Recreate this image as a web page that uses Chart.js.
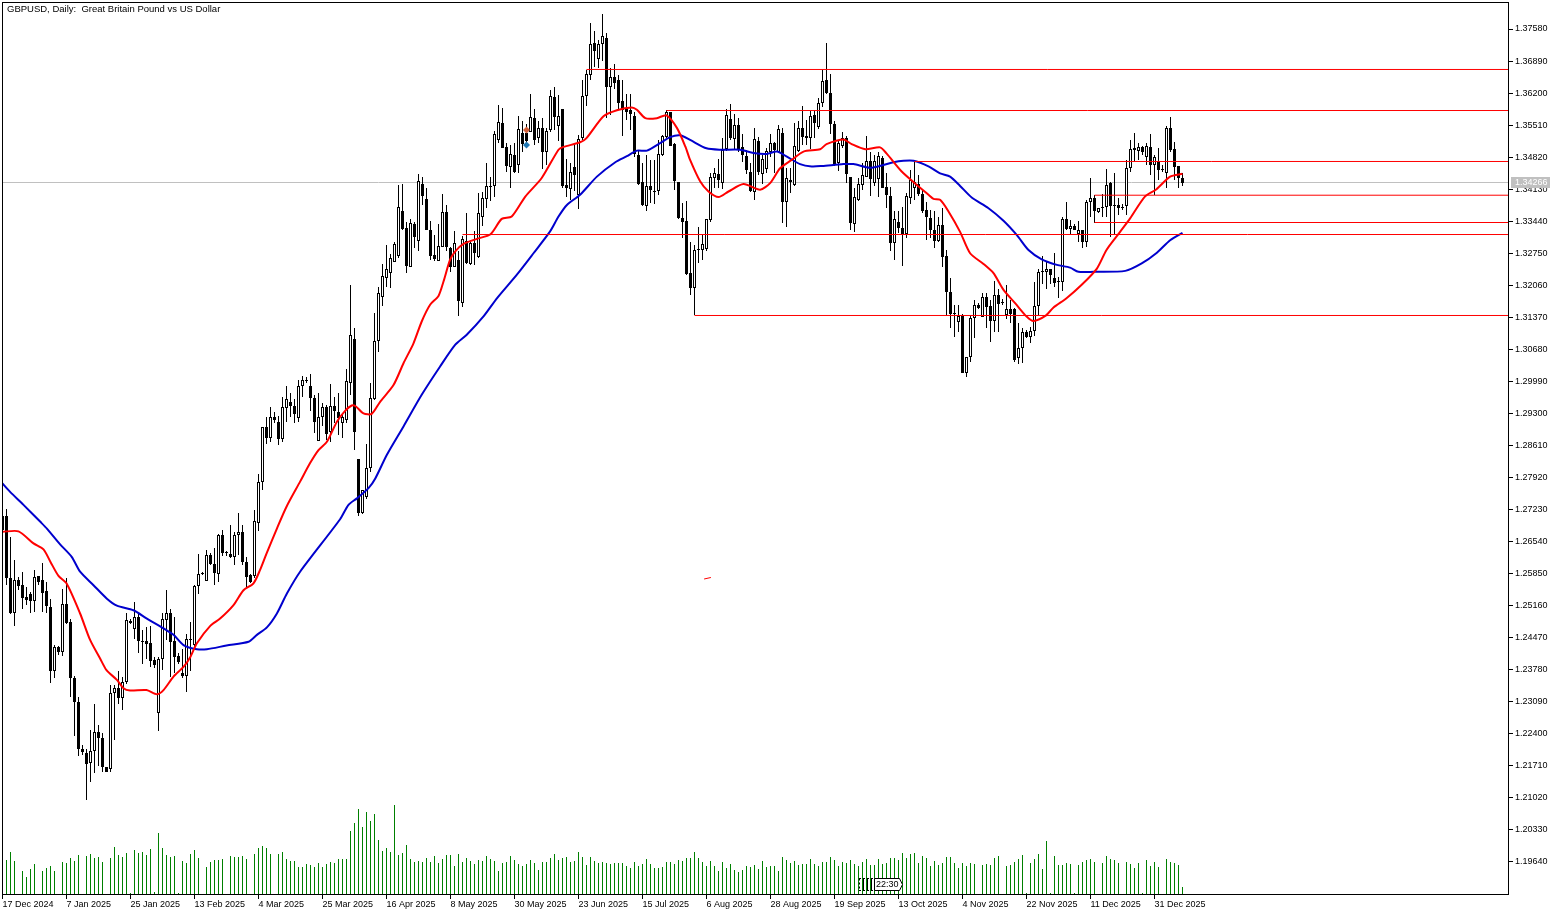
<!DOCTYPE html>
<html>
<head>
<meta charset="utf-8">
<title>GBPUSD Daily</title>
<script src="https://cdn.jsdelivr.net/npm/chart.js@4/dist/chart.umd.min.js"></script>
<style>
    html, body { margin: 0; padding: 0; background: #fff; }
    canvas { display: block; }
</style>
</head>
<body>
<canvas id="chart" width="1561" height="915" style="width:1561px;height:915px"></canvas>
<script>
const titleText = 'GBPUSD, Daily:  Great Britain Pound vs US Dollar';
const dateLabels = ['17 Dec 2024', '7 Jan 2025', '25 Jan 2025', '13 Feb 2025', '4 Mar 2025', '25 Mar 2025', '16 Apr 2025',
    '8 May 2025', '30 May 2025', '23 Jun 2025', '15 Jul 2025', '6 Aug 2025', '28 Aug 2025', '19 Sep 2025',
    '13 Oct 2025', '4 Nov 2025', '22 Nov 2025', '11 Dec 2025', '31 Dec 2025'];
const priceTicks = [1.37580, 1.36890, 1.36200, 1.35510, 1.34820, 1.34130, 1.33440, 1.32750, 1.32060, 1.31370, 1.30680,
    1.29990, 1.29300, 1.28610, 1.27920, 1.27230, 1.26540, 1.25850, 1.25160, 1.24470, 1.23780, 1.23090,
    1.22400, 1.21710, 1.21020, 1.20330, 1.19640];
const bidPrice = 1.34266;
const timerText = '22:30';

const highs = [
    1.2715,1.2725,1.2664,1.2614,1.2578,1.2589,1.2557,1.2546,1.2593,1.2580,
    1.2607,1.2567,1.2531,1.2432,1.2429,1.2551,1.2575,1.2488,1.2365,1.2320,
    1.2216,1.2208,1.2249,1.2305,1.2259,1.2241,1.2169,1.2345,1.2345,1.2375,
    1.2363,1.2501,1.2488,1.2523,1.2499,1.2463,1.2470,1.2472,1.2406,1.2406,
    1.2499,1.2549,1.2508,1.2492,1.2413,1.2422,1.2455,1.2481,1.2560,1.2628,
    1.2589,1.2636,1.2630,1.2639,1.2670,1.2679,1.2633,1.2689,1.2675,1.2715,
    1.2689,1.2621,1.2584,1.2723,1.2799,1.2900,1.2923,1.2943,1.2932,1.2925,
    1.2965,1.2988,1.2975,1.2960,1.3001,1.3011,1.3009,1.3015,1.2970,1.2973,
    1.2952,1.2948,1.2994,1.2966,1.2973,1.2930,1.3025,1.3207,1.3113,1.2832,
    1.2765,1.2864,1.2995,1.3146,1.3202,1.3252,1.3293,1.3273,1.3300,1.3422,
    1.3424,1.3343,1.3348,1.3343,1.3445,1.3440,1.3415,1.3345,1.3314,1.3338,
    1.3403,1.3379,1.3288,1.3323,1.3279,1.3312,1.3361,1.3304,1.3322,1.3404,
    1.3406,1.3469,1.3440,1.3539,1.3595,1.3588,1.3512,1.3509,1.3512,1.3570,
    1.3559,1.3554,1.3618,1.3585,1.3559,1.3566,1.3545,1.3626,1.3633,1.3616,
    1.3585,1.3478,1.3469,1.3512,1.3530,1.3649,1.3670,1.3771,1.3753,1.3735,
    1.3791,1.3749,1.3674,1.3682,1.3659,1.3649,1.3618,1.3618,1.3580,1.3498,
    1.3469,1.3487,1.3476,1.3476,1.3519,1.3530,1.3584,1.3580,1.3512,1.3428,
    1.3383,1.3387,1.3300,1.3293,1.3331,1.3315,1.3349,1.3448,1.3458,1.3478,
    1.3523,1.3585,1.3597,1.3575,1.3566,1.3532,1.3498,1.3469,1.3544,1.3526,
    1.3487,1.3501,1.3532,1.3515,1.3551,1.3544,1.3458,1.3458,1.3556,1.3559,
    1.3592,1.3562,1.3582,1.3584,1.3609,1.3670,1.3727,1.3661,1.3559,1.3517,
    1.3536,1.3528,1.3440,1.3415,1.3436,1.3469,1.3528,1.3494,1.3487,1.3492,
    1.3485,1.3447,1.3418,1.3365,1.3365,1.3375,1.3404,1.3454,1.3472,1.3444,
    1.3413,1.3386,1.3368,1.3365,1.3354,1.3372,1.3282,1.3221,1.3164,1.3164,
    1.3145,1.3052,1.3142,1.3174,1.3167,1.3190,1.3190,1.3174,1.3215,1.3197,
    1.3176,1.3207,1.3174,1.3156,1.3124,1.3115,1.3110,1.3117,1.3214,1.3242,
    1.3268,1.3257,1.3242,1.3275,1.3224,1.3354,1.3385,1.3347,1.3338,1.3345,
    1.3325,1.3390,1.3438,1.3400,1.3372,1.3403,1.3456,1.3429,1.3447,1.3393,
    1.3380,1.3476,1.3519,1.3533,1.3512,1.3507,1.3512,1.3531,1.3487,1.3501,
    1.3465,1.3548,1.3568,1.3515,1.3463,1.3447
];
const opens = [
    1.2709,1.2709,1.2575,1.2501,1.2572,1.2560,1.2534,1.2542,1.2526,1.2580,
    1.2572,1.2547,1.2512,1.2376,1.2426,1.2415,1.2519,1.2480,1.2361,1.2309,
    1.2208,1.2198,1.2176,1.2203,1.2243,1.2230,1.2169,1.2165,1.2327,1.2338,
    1.2316,1.2352,1.2483,1.2466,1.2491,1.2440,1.2440,1.2435,1.2399,1.2284,
    1.2400,1.2485,1.2501,1.2440,1.2407,1.2370,1.2365,1.2442,1.2431,1.2559,
    1.2586,1.2570,1.2626,1.2605,1.2584,1.2669,1.2629,1.2628,1.2621,1.2669,
    1.2674,1.2610,1.2582,1.2580,1.2695,1.2783,1.2900,1.2878,1.2923,1.2912,
    1.2874,1.2941,1.2955,1.2945,1.2920,1.2990,1.3002,1.2990,1.2964,1.2871,
    1.2922,1.2943,1.2889,1.2945,1.2932,1.2910,1.2915,1.2995,1.3090,1.2831,
    1.2716,1.2749,1.2812,1.2961,1.3085,1.3180,1.3221,1.3233,1.3257,1.3268,
    1.3367,1.3329,1.3246,1.3338,1.3302,1.3424,1.3391,1.3324,1.3271,1.3259,
    1.3289,1.3363,1.3286,1.3245,1.3261,1.3167,1.3302,1.3252,1.3296,1.3266,
    1.3353,1.3392,1.3418,1.3420,1.3519,1.3555,1.3504,1.3461,1.3487,1.3464,
    1.3535,1.3534,1.3537,1.3566,1.3524,1.3545,1.3494,1.3540,1.3611,1.3550,
    1.3585,1.3423,1.3414,1.3461,1.3401,1.3523,1.3613,1.3658,1.3728,1.3693,
    1.3726,1.3738,1.3632,1.3654,1.3649,1.3602,1.3588,1.3584,1.3571,1.3487,
    1.3428,1.3377,1.3420,1.3410,1.3408,1.3487,1.3525,1.3580,1.3511,1.3428,
    1.3351,1.3345,1.3232,1.3200,1.3282,1.3281,1.3284,1.3347,1.3438,1.3446,
    1.3426,1.3499,1.3564,1.3521,1.3551,1.3503,1.3485,1.3449,1.3406,1.3517,
    1.3446,1.3456,1.3494,1.3512,1.3494,1.3533,1.3386,1.3433,1.3421,1.3496,
    1.3544,1.3528,1.3523,1.3573,1.3546,1.3598,1.3648,1.3620,1.3553,1.3469,
    1.3505,1.3523,1.3439,1.3337,1.3390,1.3421,1.3440,1.3474,1.3427,1.3435,
    1.3480,1.3417,1.3398,1.3298,1.3342,1.3329,1.3317,1.3395,1.3415,1.3424,
    1.3403,1.3368,1.3350,1.3325,1.3302,1.3335,1.3270,1.3191,1.3146,1.3126,
    1.3140,1.3018,1.3051,1.3135,1.3163,1.3138,1.3181,1.3161,1.3130,1.3185,
    1.3169,1.3142,1.3154,1.3154,1.3049,1.3070,1.3105,1.3094,1.3108,1.3161,
    1.3235,1.3235,1.3242,1.3222,1.3214,1.3212,1.3348,1.3327,1.3334,1.3316,
    1.3324,1.3300,1.3385,1.3393,1.3364,1.3372,1.3374,1.3427,1.3379,1.3379,
    1.3373,1.3377,1.3458,1.3501,1.3495,1.3503,1.3483,1.3504,1.3464,1.3474,
    1.3456,1.3447,1.3544,1.3499,1.3463,1.3436
];
const closes = [
    1.2679,1.2575,1.2499,1.2572,1.2558,1.2533,1.2528,1.2526,1.2578,1.2567,
    1.2544,1.2516,1.2376,1.2426,1.2417,1.2519,1.2479,1.2361,1.2309,1.2208,
    1.2201,1.2174,1.2203,1.2243,1.2230,1.2169,1.2158,1.2327,1.2338,1.2316,
    1.2352,1.2485,1.2478,1.2491,1.2440,1.2438,1.2433,1.2397,1.2388,1.2402,
    1.2488,1.2501,1.2438,1.2406,1.2394,1.2364,1.2443,1.2444,1.2559,1.2585,
    1.2585,1.2626,1.2605,1.2587,1.2669,1.2630,1.2631,1.2621,1.2669,1.2674,
    1.2610,1.2578,1.2566,1.2698,1.2783,1.2900,1.2876,1.2923,1.2915,1.2875,
    1.2943,1.2960,1.2946,1.2929,1.2990,1.3001,1.2999,1.2964,1.2912,1.2922,
    1.2943,1.2886,1.2947,1.2936,1.2920,1.2922,1.2999,1.3098,1.2891,1.2715,
    1.2764,1.2812,1.2963,1.3085,1.3189,1.3225,1.3240,1.3264,1.3294,1.3375,
    1.3327,1.3248,1.3340,1.3309,1.3431,1.3399,1.3324,1.3269,1.3262,1.3291,
    1.3363,1.3289,1.3245,1.3296,1.3173,1.3305,1.3253,1.3296,1.3276,1.3361,
    1.3394,1.3419,1.3417,1.3532,1.3557,1.3501,1.3462,1.3489,1.3449,1.3542,
    1.3511,1.3516,1.3568,1.3518,1.3545,1.3494,1.3539,1.3613,1.3568,1.3571,
    1.3419,1.3415,1.3450,1.3443,1.3521,1.3613,1.3662,1.3726,1.3710,1.3726,
    1.3742,1.3632,1.3654,1.3641,1.3598,1.3584,1.3580,1.3575,1.3489,1.3425,
    1.3378,1.3420,1.3412,1.3407,1.3489,1.3528,1.3580,1.3507,1.3431,1.3351,
    1.3342,1.3231,1.3201,1.3281,1.3283,1.3295,1.3349,1.3439,1.3448,1.3432,
    1.3498,1.3573,1.3523,1.3551,1.3498,1.3487,1.3454,1.3408,1.3520,1.3451,
    1.3477,1.3496,1.3512,1.3498,1.3542,1.3386,1.3438,1.3429,1.3505,1.3544,
    1.3526,1.3524,1.3571,1.3556,1.3598,1.3646,1.3620,1.3553,1.3465,1.3512,
    1.3523,1.3445,1.3341,1.3396,1.3424,1.3443,1.3474,1.3435,1.3474,1.3485,
    1.3416,1.3401,1.3296,1.3348,1.3330,1.3317,1.3399,1.3433,1.3429,1.3403,
    1.3367,1.3352,1.3324,1.3302,1.3335,1.3266,1.3192,1.3144,1.3145,1.3140,
    1.3018,1.3051,1.3135,1.3163,1.3158,1.3180,1.3160,1.3130,1.3184,1.3166,
    1.3168,1.3154,1.3144,1.3046,1.3070,1.3105,1.3095,1.3108,1.3161,1.3235,
    1.3237,1.3242,1.3228,1.3210,1.3212,1.3348,1.3327,1.3334,1.3325,1.3324,
    1.3300,1.3385,1.3393,1.3366,1.3372,1.3374,1.3423,1.3377,1.3377,1.3373,
    1.3375,1.3458,1.3499,1.3498,1.3503,1.3492,1.3506,1.3464,1.3482,1.3454,
    1.3454,1.3544,1.3497,1.3461,1.3436,1.34266
];
const lows = [
    1.2671,1.2560,1.2497,1.2473,1.2549,1.2509,1.2517,1.2499,1.2503,1.2560,
    1.2503,1.2499,1.2350,1.2361,1.2409,1.2407,1.2476,1.2320,1.2235,1.2192,
    1.2194,1.2097,1.2137,1.2156,1.2170,1.2158,1.2158,1.2158,1.2226,1.2305,
    1.2291,1.2348,1.2476,1.2445,1.2413,1.2390,1.2402,1.2384,1.2381,1.2246,
    1.2377,1.2442,1.2363,1.2370,1.2390,1.2359,1.2330,1.2376,1.2427,1.2541,
    1.2582,1.2570,1.2603,1.2560,1.2567,1.2623,1.2623,1.2618,1.2603,1.2626,
    1.2603,1.2557,1.2564,1.2575,1.2677,1.2765,1.2864,1.2869,1.2910,1.2861,
    1.2869,1.2912,1.2923,1.2910,1.2912,1.2966,1.2996,1.2936,1.2887,1.2871,
    1.2902,1.2873,1.2869,1.2909,1.2884,1.2876,1.2909,1.2970,1.2851,1.2708,
    1.2713,1.2745,1.2803,1.2959,1.3063,1.3162,1.3202,1.3201,1.3257,1.3264,
    1.3325,1.3233,1.3245,1.3286,1.3279,1.3379,1.3324,1.3261,1.3259,1.3259,
    1.3289,1.3279,1.3235,1.3245,1.3139,1.3159,1.3252,1.3250,1.3250,1.3264,
    1.3334,1.3372,1.3387,1.3397,1.3512,1.3501,1.3449,1.3415,1.3448,1.3448,
    1.3492,1.3512,1.3537,1.3509,1.3512,1.3456,1.3466,1.3537,1.3541,1.3516,
    1.3415,1.3397,1.3390,1.3408,1.3370,1.3519,1.3593,1.3649,1.3677,1.3674,
    1.3688,1.3566,1.3573,1.3629,1.3584,1.3527,1.3561,1.3541,1.3482,1.3423,
    1.3376,1.3365,1.3383,1.3381,1.3401,1.3484,1.3523,1.3505,1.3412,1.3349,
    1.3308,1.3229,1.3186,1.3142,1.3254,1.3261,1.3279,1.3343,1.3415,1.3415,
    1.3414,1.3496,1.3519,1.3498,1.3494,1.3472,1.3446,1.3406,1.3390,1.3444,
    1.3424,1.3447,1.3483,1.3447,1.3492,1.3340,1.3332,1.3404,1.3419,1.3494,
    1.3508,1.3508,1.3499,1.3524,1.3543,1.3591,1.3618,1.3532,1.3462,1.3453,
    1.3501,1.3426,1.3324,1.3320,1.3388,1.3411,1.3440,1.3399,1.3419,1.3397,
    1.3415,1.3372,1.3279,1.3261,1.3318,1.3248,1.3307,1.3381,1.3390,1.3399,
    1.3361,1.3304,1.3307,1.3287,1.3300,1.3246,1.3139,1.3115,1.3095,1.3106,
    1.3016,1.3008,1.3041,1.3093,1.3154,1.3137,1.3115,1.3084,1.3106,1.3106,
    1.3163,1.3133,1.3124,1.3041,1.3036,1.3038,1.3092,1.3081,1.3097,1.3142,
    1.3209,1.3199,1.3208,1.3203,1.3179,1.3194,1.3324,1.3316,1.3324,1.3300,
    1.3287,1.3289,1.3352,1.3341,1.3361,1.3352,1.3354,1.3311,1.3314,1.3357,
    1.3368,1.3357,1.3451,1.3474,1.3476,1.3487,1.3466,1.3443,1.3400,1.3433,
    1.3449,1.3415,1.3494,1.3433,1.3415,1.3420
];
const volumes = [
    0,34,42,33,0,23,17,25,30,0,23,26,28,23,0,32,31,36,33,39,
    0,38,40,36,37,32,0,36,47,39,37,41,1,44,41,42,39,45,2,61,
    46,39,37,38,1,33,31,40,44,36,0,27,32,34,34,35,0,38,37,37,
    38,35,0,40,46,48,46,40,0,40,42,35,33,33,27,27,30,29,27,31,
    27,30,32,31,35,35,35,63,71,85,67,82,73,80,54,43,46,42,89,39,
    41,49,35,32,33,32,36,32,38,31,35,39,39,28,40,32,36,33,30,34,
    33,38,35,33,23,31,32,38,34,30,28,30,34,31,24,32,32,36,40,34,
    36,37,32,33,42,37,29,37,33,31,32,31,30,31,31,31,28,26,32,28,
    30,35,30,26,26,27,32,32,30,34,33,36,36,42,36,32,28,33,28,23,
    32,26,30,24,22,24,28,27,29,25,33,27,28,28,23,37,34,31,33,29,
    30,30,35,30,28,32,32,37,34,28,32,31,34,30,28,32,35,29,29,35,
    30,31,36,36,34,41,36,40,41,31,38,36,28,33,29,31,37,37,31,26,
    31,28,31,30,0,29,30,29,36,38,0,28,29,32,35,39,1,31,35,40,
    25,53,1,38,29,29,31,30,1,29,32,34,35,32,0,31,38,35,34,31,
    0,32,30,26,31,1,34,28,32,27,0,35,32,31,29,7
];

// moving averages read at the bends of each line
const fastMaBars = [0,4,7.75,10.25,12,14,16,19.4,21.9,24.4,26,28.6,30.25,31.9,36,38.6,40.25,42.75,45.25,47,48.6,52,54.4,57.75,60.25,62.75,64.4,66,68.6,71,74.4,76.9,79,81.1,83.6,85.7,87.3,88.2,90.25,92.3,94.4,97.75,100.25,102.75,104.8,106.9,109,110.25,111.9,113.2,115.25,118.6,122,124.8,127.3,130.7,134.8,139,140.25,144.4,146,150.25,153.6,157.3,158.6,160.7,163.6,166,168.6,170.7,171.9,174.4,176.5,179,181.5,185.25,189.4,191.9,194.4,197.3,200.25,204.4,206,210.25,212.3,215.7,219.4,221,224.8,228.6,231.5,232.75,234.4,236.5,239.4,241.9,245.25,247.75,250.25,253.2,256.1,257.75,260.7,262.75,266,269.8,273.6,276,279.4,281.9,285.6,288.5,291.9,295];
const fastMaValues = [1.2675,1.2676,1.2650,1.2637,1.2610,1.2580,1.2564,1.2499,1.2442,1.2402,1.2377,1.2356,1.2338,1.2333,1.2334,1.2325,1.2334,1.2363,1.2384,1.2406,1.2435,1.2473,1.2488,1.2517,1.2549,1.2564,1.2593,1.2628,1.2682,1.2729,1.2783,1.2823,1.2851,1.2869,1.2912,1.2936,1.2947,1.2946,1.2930,1.2929,1.2955,1.2991,1.3038,1.3081,1.3128,1.3164,1.3183,1.3214,1.3261,1.3279,1.3295,1.3306,1.3316,1.3349,1.3354,1.3397,1.3437,1.3498,1.3504,1.3514,1.3523,1.3570,1.3583,1.3589,1.3584,1.3566,1.3566,1.3572,1.3545,1.3505,1.3476,1.3430,1.3408,1.3396,1.3408,1.3424,1.3412,1.3426,1.3458,1.3476,1.3494,1.3499,1.3510,1.3520,1.3510,1.3499,1.3503,1.3490,1.3451,1.3422,1.3401,1.3392,1.3390,1.3365,1.3321,1.3275,1.3252,1.3232,1.3196,1.3167,1.3138,1.3129,1.3140,1.3158,1.3178,1.3207,1.3242,1.3282,1.3321,1.3350,1.3397,1.3413,1.3440,1.3446];
const slowMaBars = [0,1.9,5.25,9.4,11.1,14.4,17.3,19.4,22.75,26.1,28.6,32.75,36.1,40.25,42.75,45.25,48.6,51.1,56,61.5,63.6,66.1,68.6,71.1,74.4,84.4,86.5,88.6,91.5,93.2,96.1,100.25,104.8,109.4,113.2,116,120.25,123.6,128.6,132.75,136.9,139,141.1,144.4,148.6,153.2,156.1,158.6,161.1,164.4,166.9,169.4,171.9,176,179.4,184.4,187.75,191.1,193.6,196.1,199.4,202.3,204.9,210.25,212.75,216.9,220.25,222.75,225.25,227.75,231.5,234.4,236.9,239.4,242.3,246.5,250.25,253.6,256.5,259.8,263.6,266.9,269,272.75,280.7,284.8,288.6,291.9,295];
const slowMaValues = [1.2779,1.2761,1.2733,1.2697,1.2682,1.2648,1.2621,1.2589,1.2560,1.2531,1.2516,1.2506,1.2488,1.2467,1.2453,1.2431,1.2422,1.2422,1.2430,1.2438,1.2453,1.2469,1.2499,1.2542,1.2589,1.2702,1.2733,1.2747,1.2769,1.2790,1.2841,1.2902,1.2970,1.3031,1.3078,1.3099,1.3139,1.3178,1.3229,1.3275,1.3322,1.3354,1.3379,1.3401,1.3440,1.3471,1.3484,1.3496,1.3496,1.3512,1.3525,1.3529,1.3519,1.3501,1.3498,1.3498,1.3491,1.3489,1.3494,1.3483,1.3467,1.3462,1.3463,1.3467,1.3467,1.3459,1.3465,1.3471,1.3474,1.3474,1.3462,1.3447,1.3440,1.3420,1.3395,1.3372,1.3345,1.3314,1.3282,1.3262,1.3250,1.3244,1.3235,1.3235,1.3237,1.3253,1.3276,1.3303,1.3319];

// horizontal levels, from the bar where each one starts
const levelBars = [146, 166, 228, 273, 273, 115, 173];
const levelPrices = [1.36708, 1.35824, 1.34726, 1.34000, 1.33412, 1.33153, 1.31409];

const upArrowBar = 131, upArrowPrice = 1.35404;
const downArrowBar = 131, downArrowPrice = 1.35081;
const strayBars = [175.4, 177.1];
const strayPrices = [1.25733, 1.25765];

const uiFont = '9.5px "Liberation Sans", Arial, sans-serif';
const chartData = {
    datasets: [
        {
            type: 'bar', label: 'Volume', yAxisID: 'vol', order: 10,
            data: volumes.map((v, i) => ({ x: i, y: v })),
            backgroundColor: '#008000', barThickness: 1, inflateAmount: 0
        },
        {
            type: 'bar', label: 'Wicks', yAxisID: 'y', order: 9,
            data: highs.map((h, i) => ({ x: i, y: [lows[i], h] })),
            backgroundColor: '#000', barThickness: 1, inflateAmount: 0
        },
        {
            type: 'bar', label: 'Bodies', yAxisID: 'y', order: 8,
            data: opens.map((o, i) => ({ x: i, y: [o, closes[i]] })),
            backgroundColor: opens.map((o, i) => closes[i] >= o ? '#fff' : '#000'),
            borderColor: '#000', borderWidth: 1, borderSkipped: false, barThickness: 3, minBarLength: 1, inflateAmount: 0
        },
        {
            type: 'line', label: 'Slow MA', yAxisID: 'y', order: 5,
            data: slowMaBars.map((b, i) => ({ x: b, y: slowMaValues[i] })),
            borderColor: '#0000cd', borderWidth: 2, pointRadius: 0, tension: 0.25
        },
        {
            type: 'line', label: 'Fast MA', yAxisID: 'y', order: 4,
            data: fastMaBars.map((b, i) => ({ x: b, y: fastMaValues[i] })),
            borderColor: '#ff0000', borderWidth: 2, pointRadius: 0, tension: 0.25
        },
        {
            type: 'line', label: 'Stray', yAxisID: 'y', order: 3,
            data: strayBars.map((b, i) => ({ x: b, y: strayPrices[i] })),
            borderColor: '#ff0000', borderWidth: 1, pointRadius: 0
        },
        {
            type: 'line', label: 'Arrows', yAxisID: 'y', order: 2, showLine: false,
            data: [{ x: upArrowBar, y: upArrowPrice }, { x: downArrowBar, y: downArrowPrice }],
            pointStyle: 'rectRot', pointRadius: 3.5, borderWidth: 0,
            pointBackgroundColor: ['#d2603a', '#1f78b4']
        }
    ]
};

// one line dataset per level
levelBars.forEach((b, i) => {
    chartData.datasets.push({
        type: 'line', label: 'Level ' + i, yAxisID: 'y', order: 1,
        data: [{ x: b, y: levelPrices[i] }, { x: 400, y: levelPrices[i] }],
        borderColor: '#ff0000', borderWidth: 1, pointRadius: 0
    });
});

const overlayPlugin = {
    id: 'overlay',
    afterDatasetsUpdate(chart) {
        // snap candle ends to whole pixels so they stay crisp
        chart.getSortedVisibleDatasetMetas().forEach(meta => {
            if (meta.type !== 'bar') return;
            meta.data.forEach(el => {
                const y = Math.round(el.y);
                let base = Math.round(el.base);
                if (y === base) base = y + 1;
                el.y = y;
                el.base = base;
                el.height = Math.abs(base - y);
            });
        });
    },
    beforeDatasetsDraw(chart) {
        // bid line runs behind the candles
        const ctx = chart.ctx, a = chart.chartArea;
        const bidY = Math.floor(chart.scales.y.getPixelForValue(bidPrice)) + 0.5;
        ctx.save();
        ctx.strokeStyle = '#c0c0c0';
        ctx.lineWidth = 1;
        ctx.beginPath();
        ctx.moveTo(a.left, bidY);
        ctx.lineTo(a.right, bidY);
        ctx.stroke();
        ctx.restore();
    },
    afterDraw(chart) {
        const ctx = chart.ctx, a = chart.chartArea, x = chart.scales.x, y = chart.scales.y;
        ctx.save();
        ctx.strokeStyle = '#000';
        ctx.lineWidth = 1;
        ctx.strokeRect(a.left + 0.5, a.top + 0.5, a.right - a.left, a.bottom - a.top);

        ctx.font = uiFont;
        ctx.textBaseline = 'middle';
        ctx.fillStyle = '#000';
        ctx.fillText(titleText, 7, 9.5);

        // bid price tag
        const bidY = Math.floor(y.getPixelForValue(bidPrice)) + 0.5;
        ctx.fillStyle = '#c0c0c0';
        ctx.fillRect(a.right + 3, bidY - 5.5, 39, 11);
        ctx.fillStyle = '#fff';
        ctx.font = '9px "Liberation Sans", Arial, sans-serif';
        ctx.fillText(bidPrice.toFixed(5), a.right + 7, bidY + 0.5);

        // bar timer at the bottom of the pane
        const tx = Math.floor(x.getPixelForValue(218));
        const top = 878.5, bot = 890.5;
        ctx.strokeStyle = '#000';
        [859, 863, 867, 871].forEach((px, i) => {
            ctx.setLineDash(i === 0 ? [2, 2] : []);
            ctx.beginPath();
            ctx.moveTo(px + 0.5, top);
            ctx.lineTo(px + 0.5, bot);
            ctx.stroke();
        });
        ctx.setLineDash([2, 2]);
        ctx.beginPath();
        ctx.moveTo(859, top);
        ctx.lineTo(tx, top);
        ctx.moveTo(859, bot);
        ctx.lineTo(tx, bot);
        ctx.stroke();
        ctx.setLineDash([]);
        ctx.beginPath();
        ctx.moveTo(tx + 0.5, top);
        ctx.lineTo(tx + 25.5, top);
        ctx.lineTo(tx + 28.5, (top + bot) / 2);
        ctx.lineTo(tx + 25.5, bot);
        ctx.lineTo(tx + 0.5, bot);
        ctx.closePath();
        ctx.fillStyle = '#fff';
        ctx.fill();
        ctx.stroke();
        ctx.fillStyle = '#000';
        ctx.fillText(timerText, tx + 2, 885);
        ctx.restore();
    }
};

new Chart(document.getElementById('chart'), {
    data: chartData,
    plugins: [overlayPlugin],
    options: {
        responsive: false,
        animation: false,
        events: [],
        layout: { autoPadding: false, padding: { left: 2, top: 2, right: 0, bottom: 0 } },
        datasets: { bar: { grouped: false }, line: { spanGaps: true } },
        plugins: { legend: { display: false }, tooltip: { enabled: false }, title: { display: false } },
        scales: {
            x: {
                type: 'linear',
                offset: false,
                min: -0.125,
                max: 376.375,
                afterFit: s => { s.height = 21; s.paddingLeft = 0; s.paddingRight = 0; },
                afterBuildTicks: s => { s.ticks = dateLabels.map((d, i) => ({ value: i * 16 })); },
                grid: { offset: false, drawOnChartArea: false, drawTicks: true, tickLength: 5, color: '#000' },
                border: { display: false },
                ticks: {
                    autoSkip: false, maxRotation: 0, align: 'start', padding: 0, color: '#000',
                    font: { family: '"Liberation Sans", Arial, sans-serif', size: 9 },
                    callback: (v, i) => dateLabels[i]
                }
            },
            y: {
                position: 'right',
                min: 1.189479,
                max: 1.381616,
                afterFit: s => { s.width = 53; s.paddingTop = 0; s.paddingBottom = 0; },
                afterBuildTicks: s => { s.ticks = priceTicks.map(v => ({ value: v })); },
                grid: { drawOnChartArea: false, drawTicks: true, tickLength: 5, color: '#000' },
                border: { display: false },
                ticks: {
                    autoSkip: false, padding: 2, color: '#000',
                    font: { family: '"Liberation Sans", Arial, sans-serif', size: 9 },
                    callback: v => v.toFixed(5)
                }
            },
            vol: { display: false, min: 0, max: 892 }
        }
    }
});
</script>
</body>
</html>
